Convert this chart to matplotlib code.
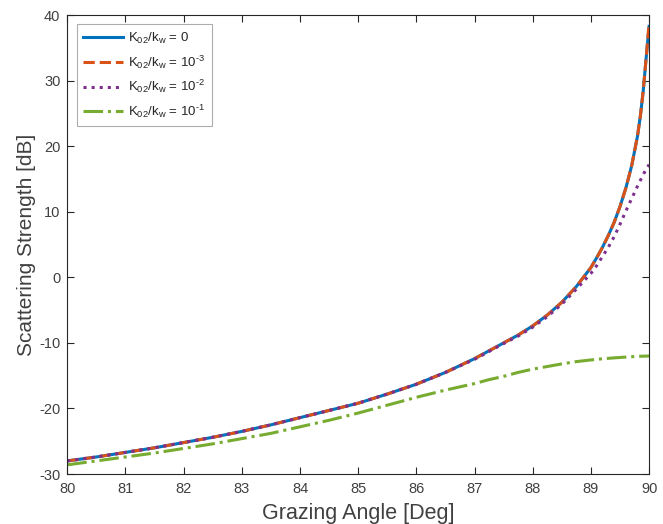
import matplotlib.pyplot as plt

# grazing angle samples [deg]
angle = [80, 80.5, 81, 81.5, 82, 82.5, 83, 83.5, 84, 84.5, 85, 85.5, 86, 86.5,
         87, 87.25, 87.5, 87.75, 88, 88.25, 88.5, 88.75, 89, 89.1, 89.2, 89.3,
         89.4, 89.5, 89.6, 89.7, 89.8, 89.85, 89.9, 89.95, 90]

# scattering strength [dB] for each K02/kw
ss_0 = [-28.0, -27.4, -26.7, -26.0, -25.2, -24.4, -23.5, -22.5, -21.4, -20.3,
        -19.2, -17.8, -16.3, -14.5, -12.4, -11.2, -10.0, -8.8, -7.4, -5.75,
        -3.8, -1.4, 1.5, 3.0, 4.6, 6.4, 8.4, 10.8, 13.6, 17.0, 21.5, 24.6,
        28.5, 33.5, 38.3]
ss_1e3 = [-28.0, -27.4, -26.7, -26.0, -25.2, -24.4, -23.5, -22.5, -21.4, -20.3,
          -19.2, -17.8, -16.3, -14.5, -12.4, -11.2, -10.0, -8.8, -7.4, -5.75,
          -3.8, -1.4, 1.5, 3.0, 4.6, 6.4, 8.4, 10.8, 13.6, 17.0, 21.5, 24.6,
          28.5, 33.5, 38.8]
ss_1e2 = [-28.0, -27.4, -26.7, -26.0, -25.2, -24.4, -23.5, -22.5, -21.4, -20.3,
          -19.2, -17.8, -16.3, -14.5, -12.5, -11.3, -10.1, -8.95, -7.6, -6.0,
          -4.1, -1.8, 0.6, 1.8, 3.2, 4.6, 6.2, 8.1, 10.1, 12.0, 13.9, 14.8,
          15.7, 16.5, 17.2]
ss_1e1 = [-28.6, -28.0, -27.4, -26.8, -26.1, -25.4, -24.6, -23.8, -22.8, -21.8,
          -20.7, -19.5, -18.3, -17.2, -16.2, -15.6, -15.1, -14.5, -14.0, -13.6,
          -13.2, -12.85, -12.6, -12.5, -12.42, -12.35, -12.28, -12.22, -12.16,
          -12.1, -12.06, -12.04, -12.02, -12.01, -12.0]

labels = [r'K$_{02}$/k$_{\mathrm{w}}$ = 0',
          r'K$_{02}$/k$_{\mathrm{w}}$ = 10$^{\text{-3}}$',
          r'K$_{02}$/k$_{\mathrm{w}}$ = 10$^{\text{-2}}$',
          r'K$_{02}$/k$_{\mathrm{w}}$ = 10$^{\text{-1}}$']

plt.rcParams['font.family'] = ['Liberation Sans', 'DejaVu Sans']
plt.rcParams['mathtext.fontset'] = 'custom'
plt.rcParams['mathtext.rm'] = 'Liberation Sans'
plt.rcParams['mathtext.it'] = 'Liberation Sans:italic'
plt.rcParams['axes.unicode_minus'] = False

fig = plt.figure(figsize=(6.63, 5.24), dpi=100)
ax = fig.add_axes([0.1015, 0.0954, 0.8775, 0.8756])

gray = '#262626'
txt = '#404040'
ax.plot(angle, ss_0, color='#0072BD', lw=2.2, label=labels[0])
ax.plot(angle, ss_1e3, color='#D95319', lw=2.2, ls='--', label=labels[1])
ax.plot(angle, ss_1e2, color='#7E2F8E', lw=2.2, ls=':', label=labels[2])
ax.plot(angle, ss_1e1, color='#77AC30', lw=2.2, ls='-.', label=labels[3])

ax.set_xlim(80, 90)
ax.set_ylim(-30, 40)
ax.set_xticks(range(80, 91))
ax.set_yticks(range(-30, 41, 10))
ax.tick_params(direction='in', top=True, right=True, length=5, width=0.8,
               colors=gray, labelsize=10.5, labelcolor=txt)
ax.tick_params(axis='x', pad=6)
ax.tick_params(axis='y', pad=5)
for s in ax.spines.values():
    s.set_color(gray)
    s.set_linewidth(0.8)

ax.set_xlabel('Grazing Angle [Deg]', fontsize=15.5, color=txt, labelpad=5)
ax.set_ylabel('Scattering Strength [dB]', fontsize=15, color=txt, labelpad=2)

leg = ax.legend(loc='upper left', fontsize=9.5, frameon=True, fancybox=False,
                edgecolor='#999999', handlelength=3.0, handletextpad=0.4,
                borderaxespad=0.7, labelspacing=0.55, borderpad=0.5)
leg.get_frame().set_linewidth(0.8)
for t in leg.get_texts():
    t.set_color(gray)

fig.savefig('out.png', dpi=100)
